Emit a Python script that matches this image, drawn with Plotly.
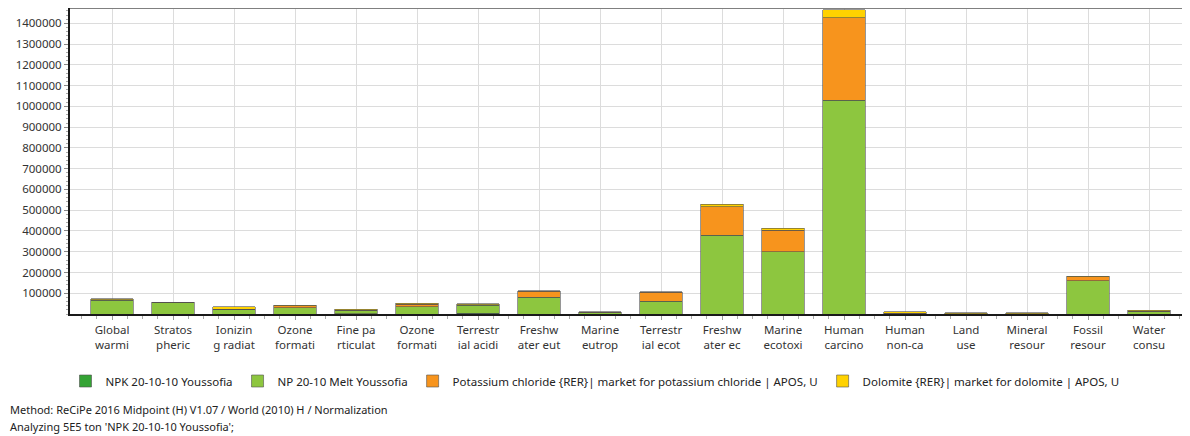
import plotly.graph_objects as go

categories = ["Global<br>warmi", "Stratos<br>pheric", "Ionizin<br>g radiat", "Ozone<br>formati",
              "Fine pa<br>rticulat", "Ozone<br>formati", "Terrestr<br>ial acidi", "Freshw<br>ater eut",
              "Marine<br>eutrop", "Terrestr<br>ial ecot", "Freshw<br>ater ec", "Marine<br>ecotoxi",
              "Human<br>carcino", "Human<br>non-ca", "Land<br>use", "Mineral<br>resour",
              "Fossil<br>resour", "Water<br>consu"]

npk = [0, 0, 0, 0, 1500, 0, 4000, 0, 0, 0, 0, 0, 0, 0, 0, 0, 0, 0]
np_melt = [66000, 54000, 22000, 31000, 13000, 35000, 39000, 80000, 5000, 62000,
           379000, 299000, 1030000, 2000, 1000, 1000, 161000, 12000]
kcl = [3000, 1500, 2000, 9000, 4000, 12500, 2000, 29000, 3000, 42000,
       138000, 104000, 398000, 2000, 1000, 500, 18000, 2000]
dolomite = [4500, 1500, 10000, 3000, 4500, 3500, 5500, 3000, 3000, 3500,
            11000, 11000, 38000, 8000, 5000, 3500, 3000, 4000]

series_names = ["NPK 20-10-10 Youssofia", "NP 20-10 Melt Youssofia",
                "Potassium chloride {RER}| market for potassium chloride | APOS, U",
                "Dolomite {RER}| market for dolomite | APOS, U"]
series_values = [npk, np_melt, kcl, dolomite]
colors = ["#34a334", "#8dc63f", "#f7941d", "#ffd200"]

y_ticks = list(range(100000, 1400001, 100000))

x_pos = list(range(len(categories)))

# page body has an 8px default margin; figure is sized to compensate
W, H = 1182, 428
L, T, B = 62, 0, 122
PW, PH = W - L, H - T - B

fig = go.Figure()
for name, vals, col in zip(series_names, series_values, colors):
    fig.add_trace(go.Bar(
        x=x_pos, y=vals, name=name, width=0.7,
        marker=dict(color=col, line=dict(color="#505050", width=0.6)),
    ))

font_family = "Noto Sans, Open Sans, sans-serif"

fig.update_layout(
    barmode="stack",
    width=W, height=H,
    margin=dict(l=L, r=0, t=T, b=B, autoexpand=False),
    plot_bgcolor="white", paper_bgcolor="white",
    font=dict(family=font_family, size=11, color="#333333"),
    showlegend=True,
    legend=dict(orientation="h", xref="container", yref="container",
                x=587 / W, xanchor="center", y=1 - 373 / H, yanchor="middle",
                font=dict(size=11.5, color="#222222"), traceorder="normal",
                itemwidth=30),
    xaxis=dict(
        range=[-0.689, 17.672],
        tickmode="array", tickvals=x_pos, ticktext=categories,
        showgrid=True, gridcolor="#dcdcdc", gridwidth=1,
        showline=True, linecolor="#1a1a1a", linewidth=2,
        ticks="outside", ticklen=4, tickcolor="#999999",
        minor=dict(dtick=0.25, tick0=0, ticks="outside", ticklen=3, tickcolor="#aaaaaa", showgrid=False),
        tickfont=dict(size=11.5, color="#333333"),
        zeroline=False, mirror=False,
    ),
    yaxis=dict(
        range=[0, 1474000],
        tickmode="array", tickvals=y_ticks, ticktext=[str(v) for v in y_ticks],
        showgrid=True, gridcolor="#dcdcdc", gridwidth=1,
        showline=True, linecolor="#1a1a1a", linewidth=2,
        ticks="outside", ticklen=4, tickcolor="#888888",
        minor=dict(dtick=20000, tick0=0, ticks="outside", ticklen=2, tickcolor="#aaaaaa", showgrid=False),
        tickfont=dict(size=11.5, color="#333333"),
        zeroline=False,
    ),
    shapes=[dict(type="line", xref="paper", yref="paper", x0=0, x1=1, y0=1, y1=1,
                 line=dict(color="#808080", width=2))],
    annotations=[
        dict(text="Method: ReCiPe 2016 Midpoint (H) V1.07 / World (2010) H / Normalization",
             xref="paper", yref="paper", x=-L / PW, y=(PH - 401) / PH,
             xanchor="left", yanchor="middle", showarrow=False,
             font=dict(size=11, color="#222222")),
        dict(text="Analyzing 5E5 ton 'NPK 20-10-10 Youssofia';",
             xref="paper", yref="paper", x=-L / PW, y=(PH - 418) / PH,
             xanchor="left", yanchor="middle", showarrow=False,
             font=dict(size=11, color="#222222")),
    ],
)

fig.write_html("out.html")
